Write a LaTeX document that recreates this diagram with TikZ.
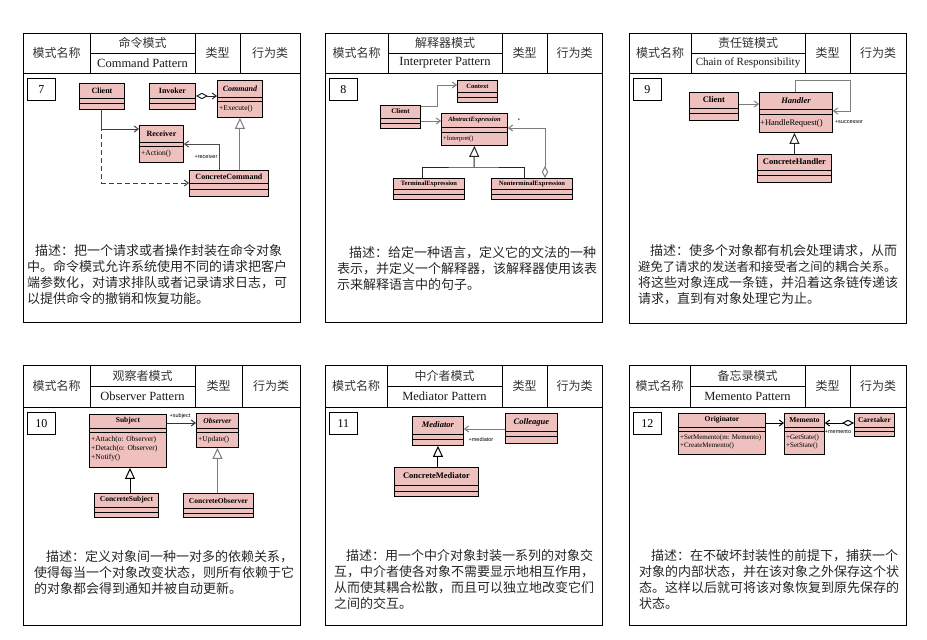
\documentclass[tikz,border=0pt]{standalone}
\usepackage{fontspec}
\setmainfont{Liberation Serif}
\newfontfamily\cjk{Noto Sans CJK SC}
\newfontfamily\lblfont{Liberation Sans}
\usepackage{tikz}
\usetikzlibrary{arrows.meta}
\definecolor{umlpink}{RGB}{238,192,190}
\definecolor{wiregray}{RGB}{125,125,125}

\begin{document}
\begin{tikzpicture}[x=1pt, y=-1pt,
    every node/.style={inner sep=0pt},
    frame/.style={draw=black, line width=1pt},
    cell/.style={font=\cjk\fontsize{12}{14}\selectfont, text=black!80},
    entext/.style={font=\fontsize{12.5}{14}\selectfont, text=black!90},
    numbox/.style={draw, line width=0.9pt, minimum width=28pt, minimum height=22pt, anchor=north west, font=\fontsize{12}{14}\selectfont},
    desc/.style={anchor=north west, align=left, font=\cjk\fontsize{13}{16}\selectfont, text=black!85},
    umlclass/.style={draw, fill=umlpink, line width=0.9pt, anchor=north west},
    clsname/.style={font=\bfseries\fontsize{8}{9}\selectfont},
    ops/.style={anchor=west, align=left, font=\fontsize{7.5}{9}\selectfont},
    tag/.style={font=\lblfont\fontsize{5.5}{6}\selectfont},
    wire/.style={draw=wiregray, line width=1pt},
    assoc/.style={wire, -{Straight Barb[length=4pt, width=6pt]}},
    aggr/.style={wire, {Diamond[length=12pt, width=6.5pt, fill=white]}-{Straight Barb[length=4pt, width=6pt]}},
    gen/.style={wire, -{Triangle[length=11pt, width=10pt, fill=white]}}]

\useasboundingbox (0,0) rectangle (927,640);

% --- card frames and headers ---
\foreach \x/\y/\h/\e/\xa/\xb/\xc/\num/\cn/\en in {
    23/33/73/322/90/195/240/7/命令模式/Command Pattern,
    325/33/73/322/388/502/547/8/解释器模式/Interpreter Pattern,
    629/33/73/323/691/805/850/9/责任链模式/{\fontsize{11}{12}\selectfont Chain of Responsibility},
    23/365/407/625/90/195/242/10/观察者模式/Observer Pattern,
    325/365/407/625/387/502/547/11/中介者模式/Mediator Pattern,
    629/365/407/625/690/805/850/12/备忘录模式/Memento Pattern}
{
    \draw[frame] (\x,\y) rectangle ({\x+277},\e);
    \draw[frame] (\x,\h) -- ({\x+277},\h)
        (\xa,\y) -- (\xa,\h) (\xb,\y) -- (\xb,\h) (\xc,\y) -- (\xc,\h)
        (\xa,{(\y+\h)/2}) -- (\xb,{(\y+\h)/2});
    \node[cell] (kind\num) at ({(\x+\xa)/2},{(\y+\h)/2}) {模式名称};
    \node[cell] (cn\num) at ({(\xa+\xb)/2},{(3*\y+\h)/4}) {\cn};
    \node[entext] (en\num) at ({(\xa+\xb)/2},{(\y+3*\h)/4}) {\en};
    \node[cell] (type\num) at ({(\xb+\xc)/2},{(\y+\h)/2}) {类型};
    \node[cell] (group\num) at ({(\xc+\x+277)/2},{(\y+\h)/2}) {行为类};
    \node[numbox] (num\num) at ({\x+4},{\h+5}) {\num};
}

% --- 7: command ---
\begin{scope}
    \node[umlclass, minimum width=45, minimum height=26] (cmdclient) at (79,83) {};
    \node[umlclass, minimum width=46, minimum height=26] (invoker) at (149,83) {};
    \node[umlclass, minimum width=45, minimum height=37] (command) at (217,80) {};
    \node[umlclass, minimum width=44, minimum height=37] (receiver) at (139,125) {};
    \node[umlclass, minimum width=79, minimum height=26] (concretecmd) at (189,170) {};
    \foreach \cls/\ny/\ya/\yb/\txt in {cmdclient/90.5/98/103/Client, invoker/90.5/98/103/Invoker,
        command/88.5/97/101/{\itshape Command}, receiver/133.5/142/146/Receiver,
        concretecmd/176.5/183/189/ConcreteCommand}
    {
        \draw[line width=0.8pt] (\cls.west |- 0,\ya) -- (\cls.east |- 0,\ya) (\cls.west |- 0,\yb) -- (\cls.east |- 0,\yb);
        \node[clsname] (\cls-name) at (\cls.north |- 0,\ny) {\txt};
    }
    \node[ops] (command-ops) at (219,109) {+Execute()};
    \node[ops] (receiver-ops) at (141,154) {+Action()};

    \draw[aggr, draw=black!85] (invoker.east |- 0,96) -- (command.west |- 0,96);
    \draw[assoc, draw=black!75] (cmdclient.south) |- (receiver.west |- 0,129);
    \draw[assoc, draw=black!75, dash pattern=on 5pt off 3pt] (cmdclient.south) |- (concretecmd.west |- 0,183);
    \draw[assoc, draw=black!70] (concretecmd.north -| 219,0) |- (receiver.east |- 0,144);
    \draw[gen] (concretecmd.north -| command.south) -- (command.south);
    \node[tag] (receiver-tag) at (206,157) {+receiver};

    \node[desc] (desc7) at (27,244) {\hspace*{8pt}描述：把一个请求或者操作封装在命令对象\\中。命令模式允许系统使用不同的请求把客户\\端参数化，对请求排队或者记录请求日志，可\\以提供命令的撤销和恢复功能。};
\end{scope}

% --- 8: interpreter ---
\begin{scope}[clsname/.append style={font=\bfseries\fontsize{6.5}{8}\selectfont}]
    \node[umlclass, minimum width=40, minimum height=23] (intclient) at (380,105) {};
    \node[umlclass, minimum width=40, minimum height=22] (context) at (457,80) {};
    \node[umlclass, minimum width=66, minimum height=32] (absexpr) at (441,113) {};
    \node[umlclass, minimum width=71, minimum height=21] (termexpr) at (393,178) {};
    \node[umlclass, minimum width=81, minimum height=21] (ntexpr) at (491,178) {};
    \foreach \cls/\ny/\ya/\yb/\txt in {intclient/111.5/118/123/{\fontsize{7}{8}\selectfont Client},
        context/86/92/97/Context, absexpr/120/127/132/{\itshape AbstractExpression},
        termexpr/183.5/189/194/TerminalExpression, ntexpr/183.5/189/194/NonterminalExpression}
    {
        \draw[line width=0.8pt] (\cls.west |- 0,\ya) -- (\cls.east |- 0,\ya) (\cls.west |- 0,\yb) -- (\cls.east |- 0,\yb);
        \node[clsname] (\cls-name) at (\cls.north |- 0,\ny) {\txt};
    }
    \node[ops, font=\fontsize{6.5}{8}\selectfont] (absexpr-ops) at (443,139) {+Interpret()};

    \coordinate (treejoin) at (474,167);
    \draw[assoc] (intclient.east |- 0,106) -- (437,106) |- (context.west |- 0,85);
    \draw[assoc] (intclient.east |- 0,121) -- (absexpr.west |- 0,121);
    \draw[gen, draw=black!85] (treejoin) -- (absexpr.south);
    \draw[wire, draw=black!85] (termexpr.north -| 422,0) |- (treejoin) -| (ntexpr.north -| 524,0);
    \draw[aggr] (ntexpr.north -| 545,0) |- (absexpr.east |- 0,128);
    \node[tag] (many-tag) at (519,121) {*};

    \node[desc] (desc8) at (337,246) {\hspace*{12pt}描述：给定一种语言，定义它的文法的一种\\表示，并定义一个解释器，该解释器使用该表\\示来解释语言中的句子。};
\end{scope}

% --- 9: chain of responsibility ---
\begin{scope}[clsname/.append style={font=\bfseries\fontsize{8.5}{10}\selectfont}]
    \node[umlclass, minimum width=49, minimum height=28] (corclient) at (689,92) {};
    \node[umlclass, minimum width=73, minimum height=40] (handler) at (759,92) {};
    \node[umlclass, minimum width=74, minimum height=28] (concretehandler) at (757,154) {};
    \foreach \cls/\ny/\ya/\yb/\txt in {corclient/100/108/113/Client,
        handler/100.5/109/114/{\itshape Handler}, concretehandler/162/170/175/ConcreteHandler}
    {
        \draw[line width=0.8pt] (\cls.west |- 0,\ya) -- (\cls.east |- 0,\ya) (\cls.west |- 0,\yb) -- (\cls.east |- 0,\yb);
        \node[clsname] (\cls-name) at (\cls.north |- 0,\ny) {\txt};
    }
    \node[ops, font=\fontsize{8.5}{10}\selectfont] (handler-ops) at (760,123) {+HandleRequest()};

    \draw[assoc] (corclient.east |- 0,104) -- (handler.west |- 0,104);
    \draw[assoc] (handler.north -| 795,0) -- (795,80) -- (850,80) |- (handler.east |- 0,111);
    \draw[gen, draw=black!85] (concretehandler.north) -- (concretehandler.north |- handler.south);
    \node[tag] (successor-tag) at (849,122) {+successor};

    \node[desc] (desc9) at (638,244) {\hspace*{12pt}描述：使多个对象都有机会处理请求，从而\\{\fontsize{12.3}{16}\selectfont 避免了请求的发送者和接受者之间的耦合关系。}\\将这些对象连成一条链，并沿着这条链传递该\\请求，直到有对象处理它为止。};
\end{scope}

% --- 10: observer ---
\begin{scope}[clsname/.append style={font=\bfseries\fontsize{7.5}{9}\selectfont}]
    \node[umlclass, minimum width=77, minimum height=53] (subject) at (89,414) {};
    \node[umlclass, minimum width=42, minimum height=34] (observer) at (196,413) {};
    \node[umlclass, minimum width=64, minimum height=24] (concretesubject) at (94,493) {};
    \node[umlclass, minimum width=70, minimum height=24] (concreteobserver) at (183,493) {};
    \foreach \cls/\ny/\ya/\yb/\txt in {subject/421/428/432/Subject,
        observer/420.5/428/432/{\itshape Observer}, concretesubject/500/507/512/ConcreteSubject,
        concreteobserver/500.5/508/513/ConcreteObserver}
    {
        \draw[line width=0.8pt] (\cls.west |- 0,\ya) -- (\cls.east |- 0,\ya) (\cls.west |- 0,\yb) -- (\cls.east |- 0,\yb);
        \node[clsname] (\cls-name) at (\cls.north |- 0,\ny) {\txt};
    }
    \node[ops, anchor=north west] (subject-ops) at (91,436) {+Attach(o: Observer)\\+Detach(o: Observer)\\+Notify()};
    \node[ops] (observer-ops) at (198,440) {+Update()};

    \draw[assoc, draw=black!80] (subject.east |- 0,423) -- (observer.west |- 0,423);
    \draw[gen, draw=black] (concretesubject.north -| 130,0) -- (subject.south -| 130,0);
    \draw[gen] (concreteobserver.north -| observer.south) -- (observer.south);
    \node[tag] (subject-tag) at (180,416) {+subject};

    \node[desc] (desc10) at (34,550) {\hspace*{12pt}描述：定义对象间一种一对多的依赖关系，\\使得每当一个对象改变状态，则所有依赖于它\\的对象都会得到通知并被自动更新。};
\end{scope}

% --- 11: mediator ---
\begin{scope}[clsname/.append style={font=\bfseries\fontsize{8.5}{10}\selectfont}]
    \node[umlclass, minimum width=51, minimum height=29] (mediator) at (412,416) {};
    \node[umlclass, minimum width=52, minimum height=30] (colleague) at (505,413) {};
    \node[umlclass, minimum width=84, minimum height=29] (concretemediator) at (394,467) {};
    \foreach \cls/\ny/\ya/\yb/\txt in {mediator/425/434/439/{\itshape Mediator},
        colleague/422/431/436/{\itshape Colleague}, concretemediator/476/485/491/ConcreteMediator}
    {
        \draw[line width=0.8pt] (\cls.west |- 0,\ya) -- (\cls.east |- 0,\ya) (\cls.west |- 0,\yb) -- (\cls.east |- 0,\yb);
        \node[clsname] (\cls-name) at (\cls.north |- 0,\ny) {\txt};
    }

    \draw[assoc] (colleague.west |- 0,429) -- (mediator.east |- 0,429);
    \draw[gen, draw=black] (concretemediator.north -| mediator.south) -- (mediator.south);
    \node[tag] (mediator-tag) at (481,440) {+mediator};

    \node[desc] (desc11) at (334,549) {\hspace*{12pt}描述：用一个中介对象封装一系列的对象交\\互，中介者使各对象不需要显示地相互作用，\\从而使其耦合松散，而且可以独立地改变它们\\之间的交互。};
\end{scope}

% --- 12: memento ---
\begin{scope}[clsname/.append style={font=\bfseries\fontsize{7.5}{9}\selectfont}]
    \node[umlclass, minimum width=87, minimum height=41] (originator) at (678,413) {};
    \node[umlclass, minimum width=40, minimum height=41] (memento) at (784,413) {};
    \node[umlclass, minimum width=40, minimum height=23] (caretaker) at (854,413) {};
    \foreach \cls/\ny/\ya/\yb/\txt in {originator/420/427/431/Originator,
        memento/420/427/431/Memento, caretaker/420/427/431/Caretaker}
    {
        \draw[line width=0.8pt] (\cls.west |- 0,\ya) -- (\cls.east |- 0,\ya) (\cls.west |- 0,\yb) -- (\cls.east |- 0,\yb);
        \node[clsname] (\cls-name) at (\cls.north |- 0,\ny) {\txt};
    }
    \node[ops, anchor=north west, font=\fontsize{7}{8.5}\selectfont] (originator-ops) at (680,434) {+SetMemento(m: Memento)\\+CreateMemento()};
    \node[ops, anchor=north west, font=\fontsize{7}{8.5}\selectfont] (memento-ops) at (786,434) {+GetState()\\+SetState()};

    \draw[assoc, draw=black] (originator.east |- 0,423) -- (memento.west |- 0,423);
    \draw[aggr, draw=black] (caretaker.west |- 0,423) -- (memento.east |- 0,423);
    \node[tag] (memento-tag) at (838,432) {+memento};

    \node[desc] (desc12) at (639,549) {\hspace*{12pt}描述：在不破坏封装性的前提下，捕获一个\\对象的内部状态，并在该对象之外保存这个状\\态。这样以后就可将该对象恢复到原先保存的\\状态。};
\end{scope}

\end{tikzpicture}
\end{document}
